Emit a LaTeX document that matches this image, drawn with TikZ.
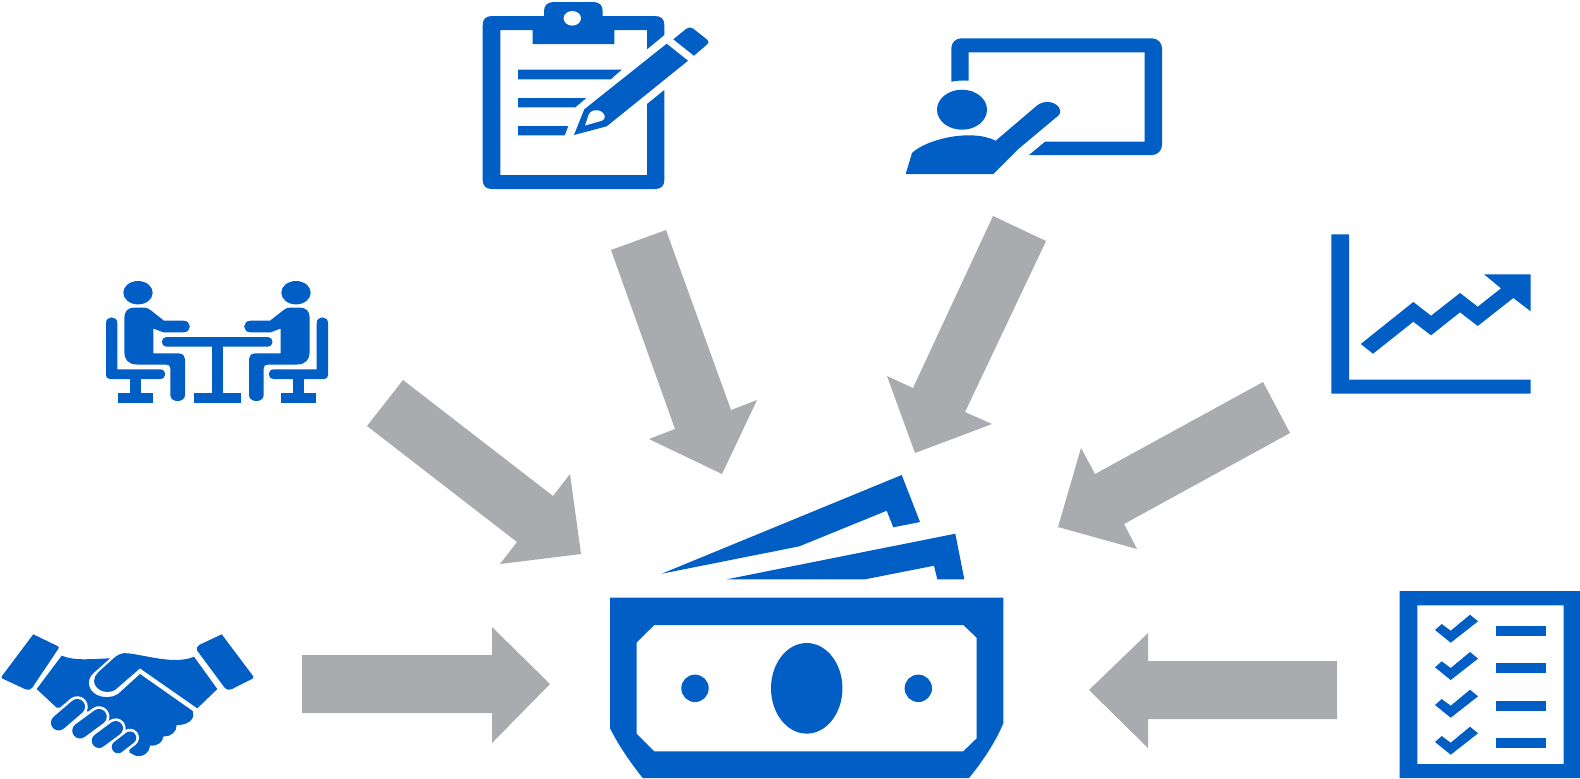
\documentclass[tikz,border=0pt]{standalone}
\definecolor{iconblue}{RGB}{0,94,196}
\definecolor{blockgray}{RGB}{170,171,174}
\tikzset{
icon/.style={fill=iconblue,draw=none},
blockarrow/.style={fill=blockgray,draw=none},
finger/.style={draw=iconblue,line cap=round},
fingergap/.style={draw=white,line cap=round},
}
\newcommand{\sitter}{
\fill[icon] (138,292.7) ellipse [x radius=14.7,y radius=11.7];
% chair
\fill[icon] (106,323) .. controls (106,315.5) and (117.3,315.5) .. (117.3,323) -- (117.3,369.3) -- (160,369.3) .. controls (167,369.3) and (167,379) .. (160,379) -- (110,379) .. controls (107,379) and (106,377) .. (106,375) -- cycle;
\fill[icon] (129.7,379) rectangle (141,393.3);
\fill[icon] (117.7,393.3) rectangle (153,402.7);
% person
\fill[icon] (124.3,318) .. controls (124.3,311) and (128,307.5) .. (135,307.5) -- (144,307.5) .. controls (147,307.5) and (149,309) .. (151,310.5) -- (164,320.7) -- (183.3,320.7) .. controls (192,320.7) and (192,332.3) .. (183.3,332.3) -- (163.3,332.3) -- (153.3,328.5) -- (153.3,353.3) -- (178,353.3) .. controls (183,353.3) and (185,356) .. (185,359) -- (185,395) .. controls (185,403) and (170.3,403) .. (170.3,395) -- (170.3,368.5) .. controls (170.3,366) and (169,364.5) .. (166,364.5) -- (137,364.5) .. controls (128,364.5) and (124.3,359) .. (124.3,352) -- cycle;
}
\begin{document}
\begin{tikzpicture}[x=0.01cm,y=-0.01cm]
\useasboundingbox (0,0) rectangle (1580,778);

\fill[blockarrow] (403,380) -- (553,496) -- (570,474) -- (581,554) -- (500,564) -- (517,542) -- (367,426) -- cycle;
\fill[blockarrow] (611,250) -- (666,230) -- (731,410) -- (757,400) -- (722,474) -- (649,439) -- (675,429) -- cycle;
\fill[blockarrow] (993,216) -- (1046,241) -- (965,412) -- (992,424) -- (915,453) -- (887,376) -- (913,388) -- cycle;
\fill[blockarrow] (1263,382) -- (1290,433) -- (1124,524) -- (1137,549) -- (1058,527) -- (1081,448) -- (1095,474) -- cycle;
\fill[blockarrow] (302,655) -- (492,655) -- (492,627) -- (550,684) -- (492,743) -- (492,713) -- (302,713) -- cycle;
\fill[blockarrow] (1337,661) -- (1148,661) -- (1148,633) -- (1089,690) -- (1148,748) -- (1148,719) -- (1337,719) -- cycle;

% money
\fill[icon] (901.7,475) -- (920,522) -- (893.3,527.3) -- (886.7,510.7) -- (799.3,546.3) -- (661.7,573.7) -- cycle;
\fill[icon] (955.3,533.7) -- (964.3,579.3) -- (937.3,579.3) -- (934,565.7) -- (865,579.3) -- (726.7,579.3) -- cycle;
\fill[icon,even odd rule] (610,597.7) -- (1003.3,597.7) -- (1003.3,723.3) .. controls (995,743) and (982,762) .. (969,778) -- (642.7,778) .. controls (631,763) and (620,748) .. (610,728.3) -- cycle
(654.3,625) -- (963.3,625) -- (976.7,637.7) -- (976.7,738.3) -- (963.3,751.3) -- (654.3,751.3) -- (636.7,733.7) -- (636.7,642.3) -- cycle;
\fill[icon] (806.7,688.3) ellipse [x radius=35.7,y radius=45.3];
\fill[icon] (695,688.3) circle [radius=13.7];
\fill[icon] (918.3,688.3) circle [radius=13.7];

% clipboard
\fill[icon] (664.3,35) -- (664.3,25) .. controls (664.3,19) and (661,16) .. (655,16) -- (602.7,16) -- (602.7,11) .. controls (602.7,5) and (599,2) .. (593,2) -- (554,2) .. controls (548,2) and (544,5) .. (544,11) -- (544,16) -- (492,16) .. controls (486,16) and (482.7,19) .. (482.7,25) -- (482.7,180) .. controls (482.7,186) and (486,189) .. (492,189) -- (655,189) .. controls (661,189) and (664.3,186) .. (664.3,180) -- (664.3,90) -- (647,104) -- (647,175) -- (500.3,175) -- (500.3,30) -- (532.7,30) -- (532.7,44) -- (614.3,44) -- (614.3,30) -- (647,30) -- (647,49.3) -- cycle;
\fill[white] (572.3,18.3) ellipse [x radius=8.7,y radius=7.3];
\fill[icon] (518,69.7) -- (621.7,69.7) -- (610.7,79.3) -- (518,79.3) -- cycle;
\fill[icon] (518,98) -- (586.3,98) -- (575.3,107.3) -- (518,107.3) -- cycle;
\fill[icon] (518,126) -- (568.3,126) -- (564.7,135.3) -- (518,135.3) -- cycle;
\fill[icon] (666.7,43.7) -- (688,60.7) -- (606.7,126.3) -- (574,135) -- (584.3,109.3) -- cycle;
\fill[white] (585,125.5) -- (588.5,115) .. controls (590,110) and (598,108) .. (603,113) .. controls (606,116) and (605,120) .. (601,121) -- cycle;
\fill[icon] (673.3,39.3) -- (686,29) .. controls (688,27) and (691,27) .. (693,28.5) -- (707,39.5) .. controls (709,41) and (709,43) .. (707,44.5) -- (694,55.7) -- cycle;

% presenter
\fill[icon] (951.3,81.7) .. controls (957,80.5) and (963,80.2) .. (968.7,80.7) -- (968.7,52.3) -- (1144.7,52.3) -- (1144.7,141.7) -- (1045,141.7) -- (1029,155) [rounded corners=0.1cm] -- (1162,155) -- (1162,38.3) -- (951.3,38.3) [sharp corners] -- cycle;
\fill[icon] (962,109.7) ellipse [x radius=25,y radius=20];
\fill[icon] (905.7,174) -- (912,153) .. controls (925,140) and (970,128) .. (995.7,140.7) -- (1037,105.5) .. controls (1045,99) and (1058,102) .. (1060,110) .. controls (1061,114) and (1058,116) .. (1055,118.3) -- (1018.3,149) -- (993.3,174) -- cycle;

% meeting
\sitter
\begin{scope}[shift={(434,0)},xscale=-1]
\sitter
\end{scope}
\fill[icon] (166.5,337) -- (267.9,337) .. controls (274,337) and (274,346.7) .. (267.9,346.7) -- (166.5,346.7) .. controls (160.4,346.7) and (160.4,337) .. (166.5,337) -- cycle;
\fill[icon] (211.7,346) rectangle (223.3,393.3);
\fill[icon] (194,393.3) rectangle (240.7,402.7);

% chart
\fill[icon] (1331.3,234.3) -- (1349,234.3) -- (1349,379.7) -- (1530.7,379.7) -- (1530.7,393.7) -- (1331.3,393.7) -- cycle;
\fill[icon] (1360.7,344) -- (1413.3,302) -- (1431,315.7) -- (1460,293) -- (1477.7,306.7) -- (1501,288.3) -- (1484,274.3) -- (1530.7,274.3) -- (1530.7,311.3) -- (1513.3,298) -- (1477.7,326) -- (1460,312.3) -- (1431,335.3) -- (1413.3,321.7) -- (1373,353.7) -- cycle;

% checklist
\fill[icon,even odd rule] (1399.7,591) rectangle (1580,778) (1417.3,605.3) rectangle (1563.7,764);
\foreach \dy/\by in {0/626,37.3/663,75/701,112/738}{
\fill[icon] (1435,630+\dy) -- (1441.7,624+\dy) -- (1450.7,630.7+\dy) -- (1470,614.7+\dy) -- (1478,621.3+\dy) -- (1450.7,642.7+\dy) -- cycle;
\fill[icon] (1496,\by) rectangle (1546,\by+10);
}

% handshake
\fill[icon,rounded corners=0.02cm] (33.3,634.3) -- (59.5,647) -- (31,689.5) -- (27,690) -- (0.7,677.7) [sharp corners] -- cycle;
\fill[icon,rounded corners=0.02cm] (221.7,634.3) -- (254.3,677.7) -- (230,690) -- (226,689.5) -- (196,649) -- (198,645.5) [sharp corners] -- cycle;
\fill[icon] (61.7,655.7) .. controls (75,661) and (90,659) .. (110,658.3) -- (93,673.5) .. controls (87,679) and (87,690) .. (97,695) .. controls (103,698) and (112,698) .. (118,694) -- (140,674) -- (192.7,711) .. controls (195,716) and (192,725) .. (176.7,725) .. controls (177,732) and (170,737) .. (163.3,736.5) .. controls (163,742) and (158,746) .. (150,745.7) .. controls (150,752) and (143,758) .. (135,755.5) -- (129.3,752.3) -- (130,738) -- (115.7,728.3) -- (99,716.7) -- (77.3,706.7) -- (56.7,707.7) -- (36.7,689) -- cycle;
\fill[icon] (111.7,660) .. controls (118,654) and (122,652.5) .. (128,653.3) .. controls (145,655) and (175,665) .. (194,656.7) -- (217.3,689) -- (197.3,708.3) -- (140,668.3) -- (115,690) .. controls (110,693) and (103,692) .. (100,690) .. controls (92,685) and (93,677) .. (98,672.5) -- cycle;
\draw[fingergap,line width=0.21cm] (58.7,722.7) -- (77.3,706.7);
\draw[fingergap,line width=0.21cm] (80,730.7) -- (99,716.7);
\draw[fingergap,line width=0.2cm] (99,740.7) -- (115.7,728.3);
\draw[fingergap,line width=0.18cm] (118,747) -- (130,737.7);
\draw[finger,line width=0.155cm] (58.7,722.7) -- (77.3,706.7);
\draw[finger,line width=0.155cm] (80,730.7) -- (99,716.7);
\draw[finger,line width=0.145cm] (99,740.7) -- (115.7,728.3);
\draw[finger,line width=0.125cm] (118,747) -- (130,737.7);
\end{tikzpicture}
\end{document}
